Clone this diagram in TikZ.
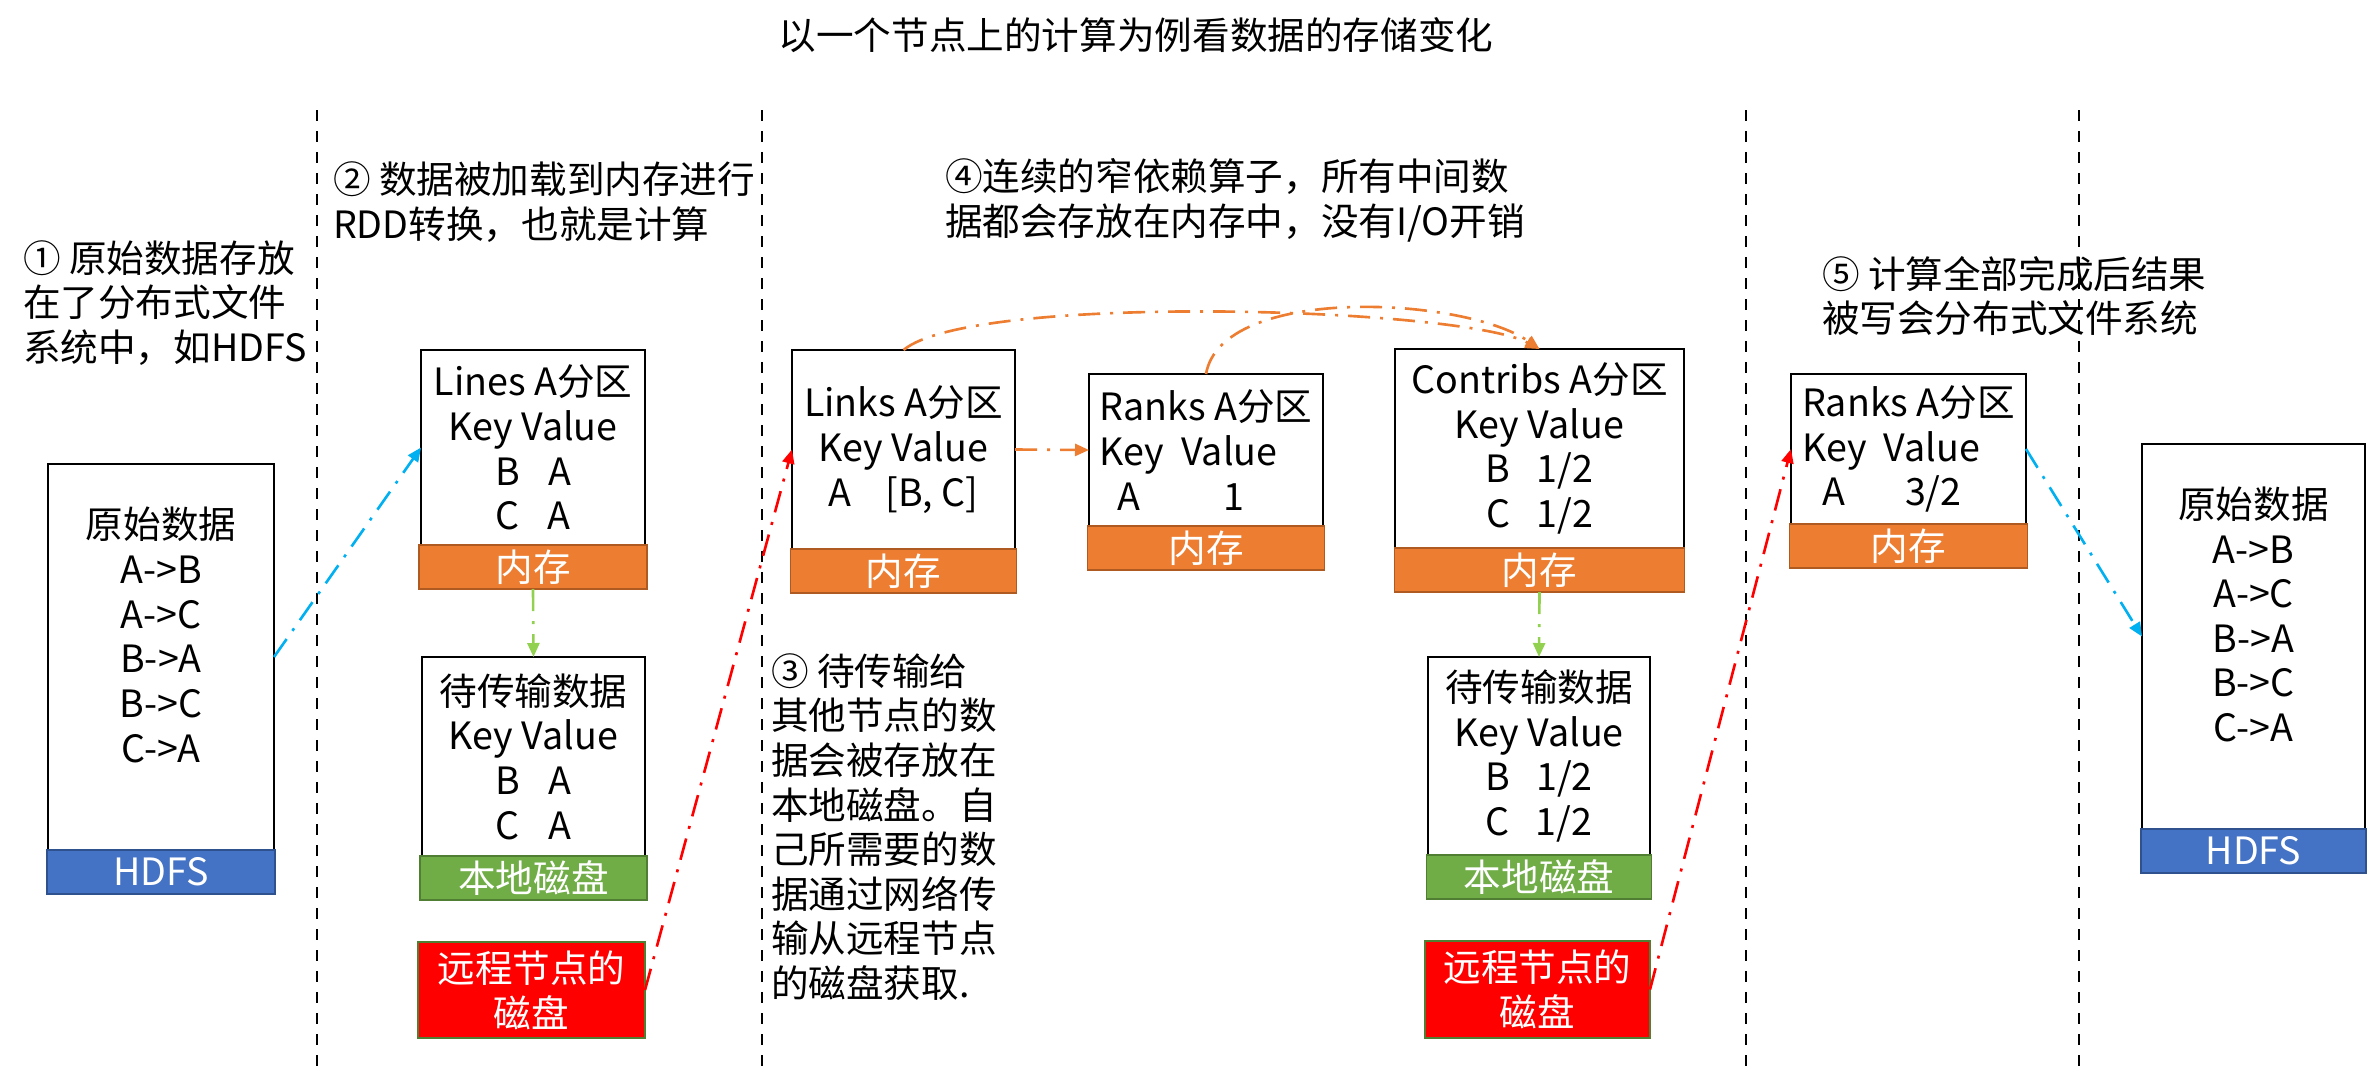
\documentclass[tikz,border=0pt]{standalone}
\usepackage{fontspec}
\setmainfont{Noto Sans CJK SC}
\usetikzlibrary{positioning,arrows.meta}

\definecolor{memorange}{HTML}{ED7D31}
\definecolor{memedge}{HTML}{AE5A21}
\definecolor{hdfsblue}{HTML}{4472C4}
\definecolor{hdfsedge}{HTML}{2F528F}
\definecolor{diskgreen}{HTML}{70AD47}
\definecolor{diskedge}{HTML}{507E32}
\definecolor{netcyan}{HTML}{00B0F0}
\definecolor{spillgreen}{HTML}{92D050}

\begin{document}
\begin{tikzpicture}[
        every node/.style={font=\fontsize{10.7}{12.7}\selectfont, inner sep=0pt, outer sep=0pt},
        databox/.style={draw, line width=0.8pt, fill=white, align=center},
        bar/.style={text=white, line width=0.55pt, minimum height=0.44cm, align=center},
        membar/.style={bar, fill=memorange, draw=memedge},
        hdfsbar/.style={bar, fill=hdfsblue, draw=hdfsedge},
        diskbar/.style={bar, fill=diskgreen, draw=diskedge},
        remotebox/.style={fill=red, draw=diskedge, line width=0.6pt, text=white, align=center},
        note/.style={anchor=west, align=left},
        divider/.style={line width=0.75pt, dash pattern=on 0.11cm off 0.10cm},
        flow/.style={line width=0.75pt, dash pattern=on 0.22cm off 0.1cm on 0.03cm off 0.1cm,
            -{Triangle[length=1.4mm,width=1.2mm]}}
    ]
        \useasboundingbox (0,0) rectangle (23.67,-10.70);

        \foreach \x in {3.17,7.62,17.46,20.79} {
            \draw[divider] (\x,-1.10) -- (\x,-10.70);
        }

        \node (title) at (11.36,-0.35) {以一个节点上的计算为例看数据的存储变化};

        \node[note] (step1) at (0.23,-3.03) {① 原始数据存放\\在了分布式文件\\系统中，如HDFS};
        \node[note] (step2) at (3.33,-2.02) {② 数据被加载到内存进行\\RDD转换，也就是计算};
        \node[note] (step3) at (7.71,-8.27) {③ 待传输给\\其他节点的数\\据会被存放在\\本地磁盘。自\\己所需要的数\\据通过网络传\\输从远程节点\\的磁盘获取.};
        \node[note] (step4) at (9.45,-2.00) {④连续的窄依赖算子，所有中间数\\据都会存放在内存中，没有I/O开销};
        \node[note] (step5) at (18.22,-2.96) {⑤ 计算全部完成后结果\\被写会分布式文件系统};

        % source file on hdfs
        \node[databox, minimum width=2.26cm, minimum height=3.86cm] (srcL) at (1.61,-6.57)
            {原始数据\\A->B\\A->C\\B->A\\B->C\\C->A\\\mbox{}};
        \node[hdfsbar, minimum width=2.28cm, below=0pt of srcL] (hdfsL) {HDFS};

        % lines partition
        \node[databox, minimum width=2.24cm, minimum height=1.95cm] (lines) at (5.33,-4.475)
            {Lines A分区\\Key Value\\B\hspace{0.75em}A\\C\hspace{0.75em}A};
        \node[membar, minimum width=2.28cm, below=0pt of lines] (linesmem) {内存};

        \node[databox, minimum width=2.23cm, minimum height=1.99cm] (sendL) at (5.335,-7.565)
            {待传输数据\\Key Value\\B\hspace{0.75em}A\\C\hspace{0.75em}A};
        \node[diskbar, minimum width=2.27cm, below=0pt of sendL] (diskL) {本地磁盘};

        \node[remotebox, minimum width=2.27cm, minimum height=0.96cm] (remoteL) at (5.315,-9.90)
            {远程节点的\\磁盘};

        % links, ranks, contribs
        \node[databox, minimum width=2.23cm, minimum height=1.99cm] (links) at (9.035,-4.495)
            {Links A分区\\Key Value\\A\hspace{0.9em}[B, C]};
        \node[membar, minimum width=2.26cm, below=0pt of links] (linksmem) {内存};

        \node[databox, align=left, minimum width=2.34cm, minimum height=1.52cm] (ranksM) at (12.06,-4.50)
            {Ranks A分区\\Key\ \ Value\\\hspace{0.48em}A\hspace{2.2em}1};
        \node[membar, minimum width=2.37cm, below=0pt of ranksM] (ranksMmem) {内存};

        \node[databox, minimum width=2.89cm, minimum height=1.99cm] (contribs) at (15.395,-4.485)
            {Contribs A分区\\Key Value\\B\hspace{0.7em}1/2\\C\hspace{0.7em}1/2};
        \node[membar, minimum width=2.90cm, below=0pt of contribs] (contribsmem) {内存};

        \node[databox, minimum width=2.22cm, minimum height=1.98cm] (sendR) at (15.39,-7.56)
            {待传输数据\\Key Value\\B\hspace{0.7em}1/2\\C\hspace{0.7em}1/2};
        \node[diskbar, minimum width=2.25cm, below=0pt of sendR] (diskR) {本地磁盘};

        \node[remotebox, minimum width=2.25cm, minimum height=0.97cm] (remoteR) at (15.375,-9.895)
            {远程节点的\\磁盘};

        % result
        \node[databox, align=left, minimum width=2.35cm, minimum height=1.50cm] (ranksR) at (19.085,-4.49)
            {Ranks A分区\\Key\ \ Value\\\hspace{0.53em}A\hspace{1.6em}3/2};
        \node[membar, minimum width=2.38cm, below=0pt of ranksR] (ranksRmem) {内存};

        \node[databox, minimum width=2.23cm, minimum height=3.85cm] (srcR) at (22.535,-6.365)
            {原始数据\\A->B\\A->C\\B->A\\B->C\\C->A\\\mbox{}};
        \node[hdfsbar, minimum width=2.25cm, below=0pt of srcR] (hdfsR) {HDFS};

        \draw[flow, netcyan] (srcL.east) -- (lines.west);
        \draw[flow, spillgreen] (linesmem.south) -- (sendL.north);
        \draw[flow, red] (remoteL.east) -- (links.west);
        \draw[flow, memorange] (links.east) -- (ranksM.west);
        \draw[flow, memorange] (links.north) to[out=40,in=152,looseness=0.36] (contribs.north);
        \draw[flow, memorange] (ranksM.north) to[out=80,in=145,looseness=0.7] (contribs.north);
        \draw[flow, spillgreen] (contribsmem.south) -- (sendR.north);
        \draw[flow, red] (remoteR.east) -- (ranksR.west);
        \draw[flow, netcyan] (ranksR.east) -- (srcR.west);
    \end{tikzpicture}
\end{document}
